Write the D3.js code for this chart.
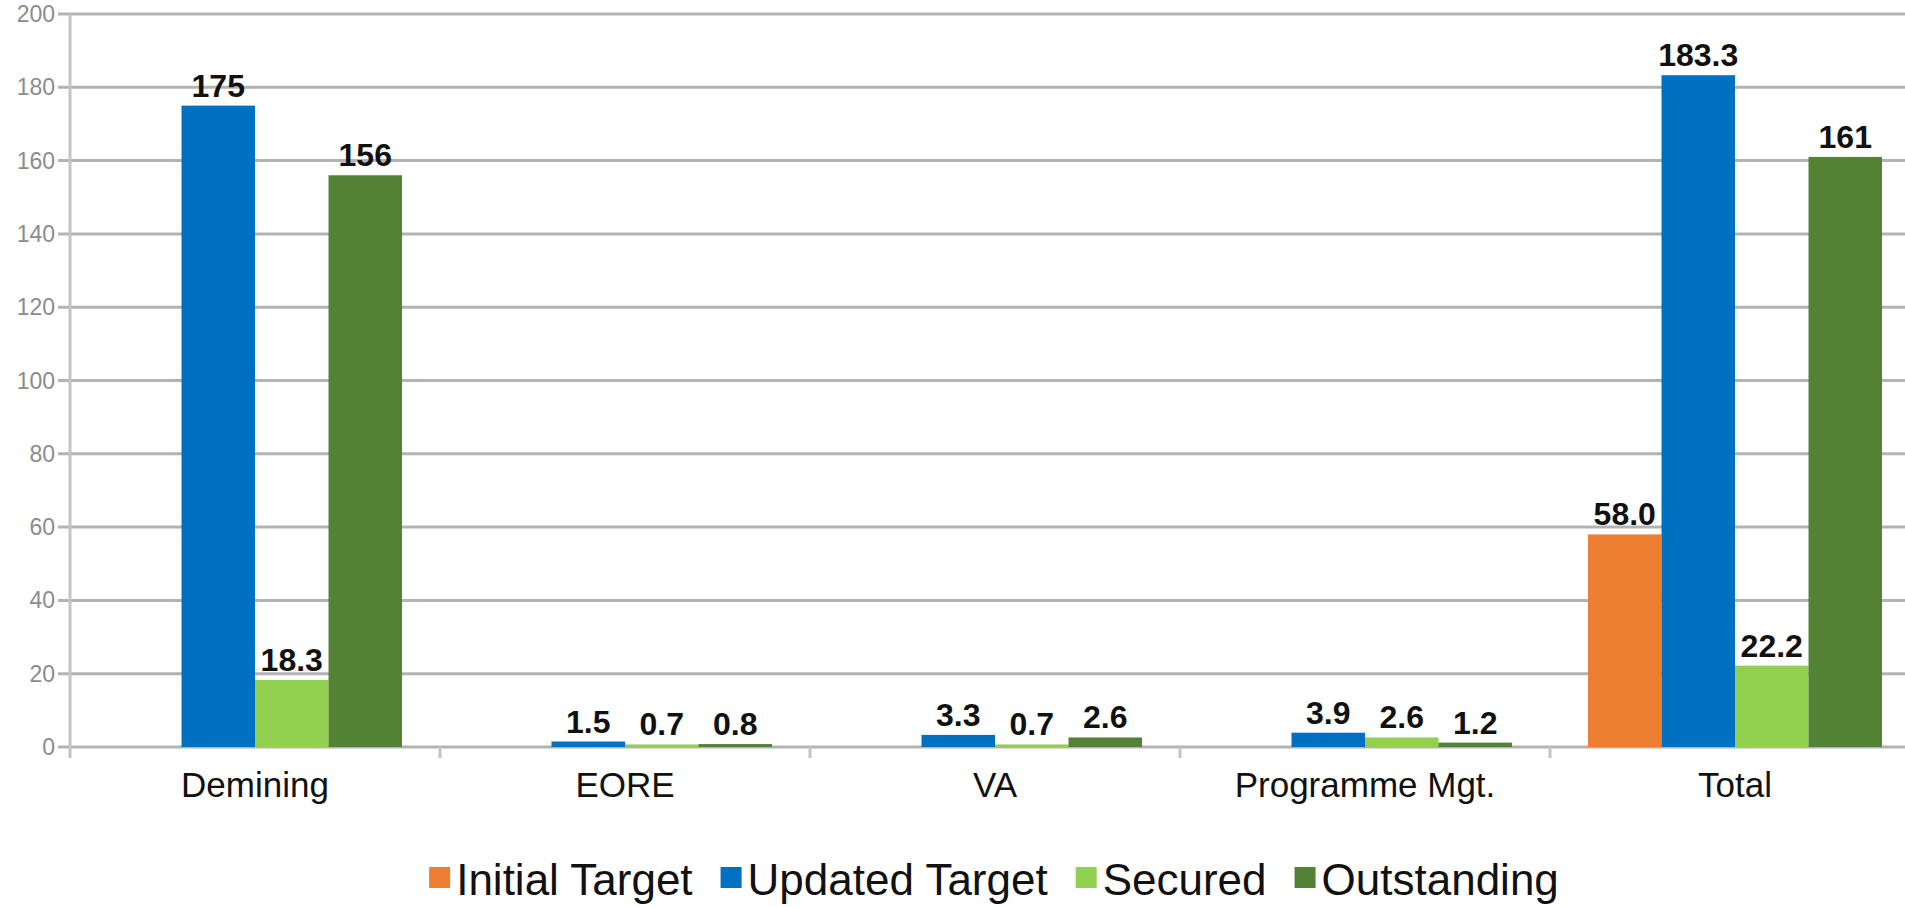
<!DOCTYPE html>
<html>
<head>
<meta charset="utf-8">
<script src="https://cdn.jsdelivr.net/npm/d3@7"></script>
<style>
  body { margin: 0; background: #fff; }
  text { font-family: "Liberation Sans", Arial, sans-serif; }
</style>
</head>
<body>
<div class="container"></div>
<script>
// chart data
var categories = ["Demining", "EORE", "VA", "Programme Mgt.", "Total"];
var seriesNames = ["Initial Target", "Updated Target", "Secured", "Outstanding"];
var initialTarget = [null, null, null, null, 58.0];
var updatedTarget = [175, 1.5, 3.3, 3.9, 183.3];
var secured = [18.3, 0.7, 0.7, 2.6, 22.2];
var outstanding = [156, 0.8, 2.6, 1.2, 161];
var yTicks = [0, 20, 40, 60, 80, 100, 120, 140, 160, 180, 200];
var colors = ["#ED7D31", "#0070C0", "#92D050", "#548235"];

var seriesValues = [initialTarget, updatedTarget, secured, outstanding];

var width = 1905, height = 907;
var plotLeft = 70, plotTop = 14, plotBottom = 747;

var svg = d3.select(".container").append('svg')
  .attr('width', width)
  .attr('height', height);

var x0 = d3.scaleBand().domain(categories).range([plotLeft, plotLeft + 370 * categories.length]);
var x1 = d3.scaleBand().domain(seriesNames).range([38, 332]);
var y = d3.scaleLinear().domain([0, 200]).range([plotBottom, plotTop]);

// gridlines
svg.append('g').selectAll('line').data(yTicks).enter()
  .append('line')
  .attr('x1', plotLeft - 12)
  .attr('x2', width)
  .attr('y1', function(d){ return y(d); })
  .attr('y2', function(d){ return y(d); })
  .attr('stroke', '#b3b3b3')
  .attr('stroke-width', 3);

// y axis line
svg.append('line')
  .attr('x1', plotLeft).attr('x2', plotLeft)
  .attr('y1', plotTop).attr('y2', plotBottom + 11)
  .attr('stroke', '#c4c4c4')
  .attr('stroke-width', 3);

// category ticks
svg.append('g').selectAll('line').data(categories.slice(1)).enter()
  .append('line')
  .attr('x1', function(d){ return x0(d); })
  .attr('x2', function(d){ return x0(d); })
  .attr('y1', plotBottom)
  .attr('y2', plotBottom + 11)
  .attr('stroke', '#c4c4c4')
  .attr('stroke-width', 3);

// y tick labels
svg.append('g').selectAll('text').data(yTicks).enter()
  .append('text')
  .attr('x', 55)
  .attr('y', function(d){ return y(d); })
  .attr('dy', '0.35em')
  .attr('text-anchor', 'end')
  .attr('font-size', 23)
  .attr('fill', '#8c8c8c')
  .text(function(d){ return d; });

// bars
var fmt = function(v){
  return (Number.isInteger(v) && v >= 100) ? d3.format("d")(v) : d3.format(".1f")(v);
};

var groups = svg.append('g').selectAll('g').data(categories).enter()
  .append('g')
  .attr('transform', function(d){ return 'translate(' + x0(d) + ',0)'; });

groups.each(function(cat, ci){
  var g = d3.select(this);
  var items = seriesNames.map(function(s, si){
    return {name: s, value: seriesValues[si][ci], color: colors[si]};
  }).filter(function(d){ return d.value != null; });

  g.selectAll('rect').data(items).enter()
    .append('rect')
    .attr('x', function(d){ return x1(d.name); })
    .attr('width', x1.bandwidth())
    .attr('y', function(d){ return y(d.value); })
    .attr('height', function(d){ return plotBottom - y(d.value); })
    .attr('fill', function(d){ return d.color; });

  g.selectAll('text').data(items).enter()
    .append('text')
    .attr('x', function(d){ return x1(d.name) + x1.bandwidth() / 2; })
    .attr('y', function(d){ return y(d.value) - 9; })
    .attr('text-anchor', 'middle')
    .attr('font-size', 32)
    .attr('font-weight', 'bold')
    .attr('fill', '#111')
    .text(function(d){ return fmt(d.value); });
});

// category labels
svg.append('g').selectAll('text').data(categories).enter()
  .append('text')
  .attr('x', function(d){ return x0(d) + x0.bandwidth() / 2; })
  .attr('y', 797)
  .attr('text-anchor', 'middle')
  .attr('font-size', 35)
  .attr('fill', '#111')
  .text(function(d){ return d; });

// legend
var legend = svg.append('g');
var lx = 0;
seriesNames.forEach(function(s, i){
  legend.append('rect')
    .attr('x', lx).attr('y', 867)
    .attr('width', 21).attr('height', 21)
    .attr('fill', colors[i]);
  var t = legend.append('text')
    .attr('x', lx + 27).attr('y', 895)
    .attr('font-size', 44)
    .attr('fill', '#111')
    .text(s);
  lx += 27 + t.node().getComputedTextLength() + 28;
});
lx -= 28;
legend.attr('transform', 'translate(' + (994 - lx / 2) + ',0)');
</script>
</body>
</html>
